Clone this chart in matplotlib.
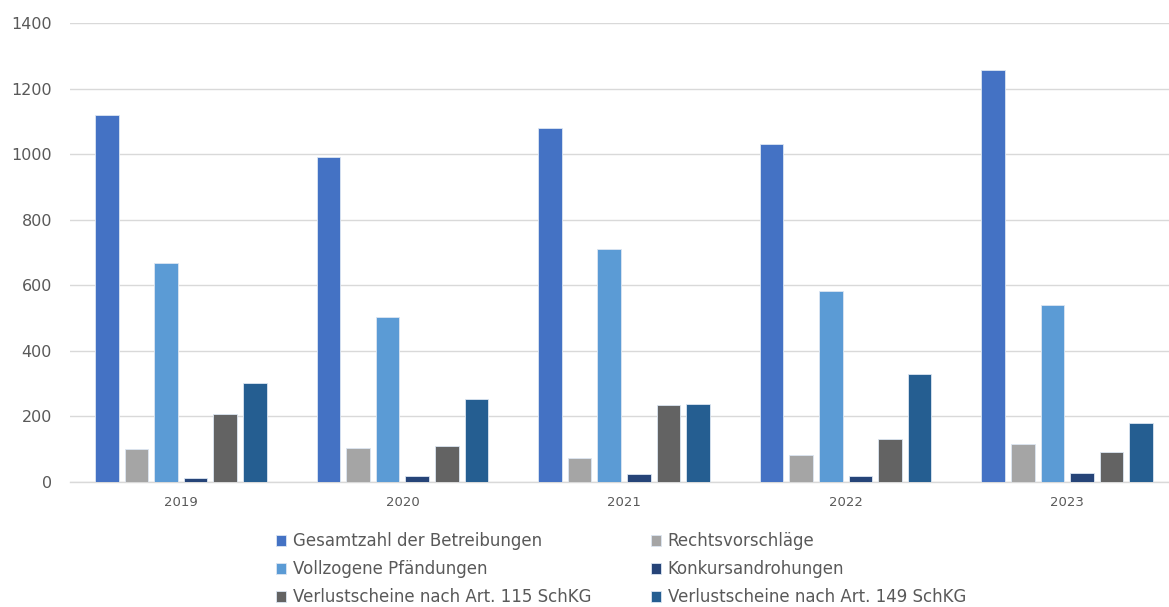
import matplotlib.pyplot as plt
import numpy as np

years = ["2019", "2020", "2021", "2022", "2023"]
series = [
    "Gesamtzahl der Betreibungen",
    "Rechtsvorschläge",
    "Vollzogene Pfändungen",
    "Konkursandrohungen",
    "Verlustscheine nach Art. 115 SchKG",
    "Verlustscheine nach Art. 149 SchKG",
]
gesamt = [1118, 990, 1081, 1030, 1256]
rechtsvorschlaege = [100, 103, 72, 81, 117]
pfaendungen = [667, 504, 711, 584, 540]
konkurs = [13, 17, 23, 17, 26]
art115 = [207, 109, 234, 130, 90]
art149 = [301, 252, 239, 328, 180]

colors = ["#4472C4", "#A5A5A5", "#5B9BD5", "#264478", "#636363", "#255E91"]
values = [gesamt, rechtsvorschlaege, pfaendungen, konkurs, art115, art149]

fig = plt.figure(figsize=(11.69, 6.07), dpi=100)
ax = fig.add_axes([70 / 1169, 1 - 482 / 607, 1108 / 1169, 459 / 607])

x = np.arange(len(years))
pitch = 0.1336
width = 0.1066
for i, (name, vals, c) in enumerate(zip(series, values, colors)):
    ax.bar(x + (i - 2.5) * pitch, vals, width, color=c, label=name,
           edgecolor="#dce6f2", linewidth=0.6, zorder=3)

ax.set_xlim(-0.5, len(years) - 0.5)
ax.set_ylim(0, 1400)
ax.set_yticks(range(0, 1401, 200))
ax.set_xticks(x)
ax.set_xticklabels(years)
ax.grid(axis="y", color="#d9d9d9", linewidth=1, zorder=0)
for s in ["top", "right", "left"]:
    ax.spines[s].set_visible(False)
ax.spines["bottom"].set_color("#d9d9d9")
ax.spines["bottom"].set_linewidth(1)
ax.tick_params(axis="both", length=0, colors="#595959")
ax.tick_params(axis="y", labelsize=11.5, pad=13)
ax.tick_params(axis="x", labelsize=9.5, pad=10)

handles, labels = ax.get_legend_handles_labels()
order = [0, 2, 4, 1, 3, 5]
fig.legend([handles[k] for k in order], [labels[k] for k in order],
           ncol=2, loc="upper center", bbox_to_anchor=(621 / 1169, 1 - 529 / 607),
           frameon=False, fontsize=12, handlelength=0.6, handleheight=0.6,
           handletextpad=0.4, columnspacing=3.6, labelspacing=0.6,
           labelcolor="#595959", borderaxespad=0, borderpad=0.2)

fig.savefig("out.png", dpi=100)
